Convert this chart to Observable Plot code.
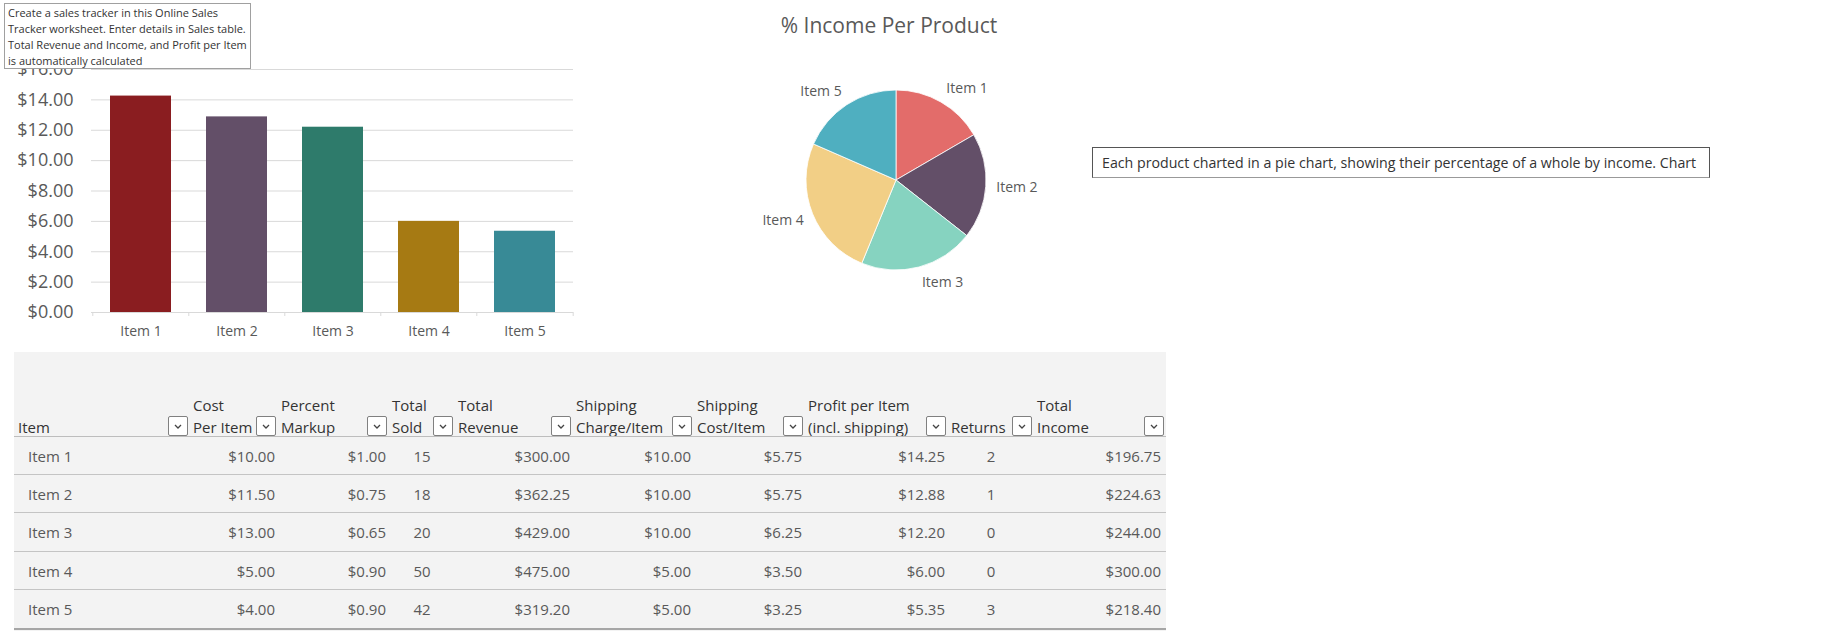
<!DOCTYPE html>
<html><head><meta charset="utf-8">
<script src="https://cdn.jsdelivr.net/npm/d3@7"></script>
<script src="https://cdn.jsdelivr.net/npm/@observablehq/plot@0.6"></script>
<style>
html,body{margin:0;padding:0;background:#fff;}
#page{position:relative;width:1829px;height:631px;overflow:hidden;font-family:'Segoe UI','Open Sans',sans-serif;}
#page > *{position:absolute;}
.tip1{left:4px;top:3px;width:247px;height:66px;box-sizing:border-box;border:1px solid #a0a0a0;background:#fff;padding:1px 0 0 3px;font-size:11px;line-height:16px;color:#333;white-space:pre;}
.tip2{left:1092px;top:147px;width:618px;height:31px;box-sizing:border-box;border:1px solid #555;border-bottom-color:#999;background:#fff;padding:0 0 0 9px;font-size:14.2px;line-height:29px;color:#333;white-space:nowrap;}
.title{left:689px;top:10px;width:400px;text-align:center;font-size:21px;line-height:30px;color:#595959;}
.cell{box-sizing:border-box;font-size:15px;color:#595959;white-space:nowrap;}
.head{font-size:15px;line-height:22px;color:#333;white-space:pre;}
.btn{box-sizing:border-box;width:20px;height:20px;border:1px solid #808080;border-radius:2px;background:#fff;}
</style></head><body><div id="page"></div>
<script>
// ---------- data ----------
const items = ["Item 1", "Item 2", "Item 3", "Item 4", "Item 5"];
const costPerItem = [10.00, 11.50, 13.00, 5.00, 4.00];
const percentMarkup = [1.00, 0.75, 0.65, 0.90, 0.90];
const totalSold = [15, 18, 20, 50, 42];
const totalRevenue = [300.00, 362.25, 429.00, 475.00, 319.20];
const shippingCharge = [10.00, 10.00, 10.00, 5.00, 5.00];
const shippingCost = [5.75, 5.75, 6.25, 3.50, 3.25];
const profitPerItem = [14.25, 12.88, 12.20, 6.00, 5.35];
const returnsCount = [2, 1, 0, 0, 3];
const totalIncome = [196.75, 224.63, 244.00, 300.00, 218.40];
const yTicks = [0, 2, 4, 6, 8, 10, 12, 14, 16];
const barColors = ["#8a1d20", "#634f68", "#2e7b6b", "#a67a13", "#388a96"];
const pieColors = ["#e36c6a", "#634f68", "#86d3c0", "#f2cf86", "#4fafc0"];
const headers = [["Item"], ["Cost", "Per Item"], ["Percent", "Markup"], ["Total", "Sold"], ["Total", "Revenue"],
  ["Shipping", "Charge/Item"], ["Shipping", "Cost/Item"], ["Profit per Item", "(incl. shipping)"], ["Returns"], ["Total", "Income"]];
const tip1Text = "Create a sales tracker in this Online Sales\nTracker worksheet. Enter details in Sales table.\nTotal Revenue and Income, and Profit per Item\nis automatically calculated";
const tip2Text = "Each product charted in a pie chart, showing their percentage of a whole by income. Chart";
const chartTitle = "% Income Per Product";

// ---------- layout (not data) ----------
const F = "'Segoe UI','Open Sans',sans-serif";
const page = document.getElementById("page");
const money = d => "$" + d.toFixed(2);

// ---------- bar chart ----------
const barData = items.map((item, i) => ({item, profit: profitPerItem[i], color: barColors[i]}));
const plotW = 600, mL = 91, mR = 27;
const step = (plotW - mL - mR) / items.length;
const bar = Plot.plot({
  width: plotW, height: 350,
  marginLeft: mL, marginRight: mR, marginTop: 69, marginBottom: 38,
  style: {fontFamily: F, color: "#595959", background: "transparent", overflow: "visible"},
  x: {domain: items, paddingInner: 0.367, paddingOuter: 0.1835, label: null},
  y: {domain: [0, 16], label: null},
  color: {type: "identity"},
  marks: [
    Plot.gridY({ticks: yTicks, stroke: "#d9d9d9", strokeOpacity: 1}),
    Plot.barY(barData, {x: "item", y: "profit", fill: "color"}),
    Plot.ruleY([0], {stroke: "#d9d9d9"}),
    Plot.axisY({ticks: yTicks, tickSize: 0, tickPadding: 18, fontSize: 18, tickFormat: money, label: null}),
    Plot.axisX({tickSize: 0, tickPadding: 14, fontSize: 14, label: null}),
    Plot.axisX({tickSize: 4, stroke: "#d9d9d9", dx: -step / 2, tickFormat: () => "", label: null}),
    Plot.axisX([items[items.length - 1]], {tickSize: 4, stroke: "#d9d9d9", dx: step / 2, tickFormat: () => "", label: null})
  ]
});
bar.style.left = "0px"; bar.style.top = "0px";
page.appendChild(bar);

const tip1 = document.createElement("div");
tip1.className = "tip1"; tip1.textContent = tip1Text;
page.appendChild(tip1);

// ---------- pie chart ----------
const pieRows = items.map((item, i) => ({item, income: totalIncome[i], color: pieColors[i]}));
const arcs = d3.pie().sort(null).value(d => d.income)(pieRows);
const R = 90;
const labels = arcs.map(a => {
  const m = (a.startAngle + a.endAngle) / 2;
  return {item: a.data.item, x: Math.sin(m) * (R + 10), y: Math.cos(m) * (R + 16), right: Math.sin(m) > 0};
});
const pie = Plot.plot({
  width: 300, height: 280, margin: 0,
  style: {fontFamily: F, color: "#595959", background: "transparent", overflow: "visible"},
  x: {domain: [-136, 164], axis: null},
  y: {domain: [-140, 140], axis: null},
  marks: [
    (index, scales) => {
      const {x, y} = scales;
      const r = x(R) - x(0);
      const g = d3.create("svg:g").attr("transform", `translate(${x(0)},${y(0)})`);
      g.selectAll("path").data(arcs).join("path")
        .attr("d", d3.arc().innerRadius(0).outerRadius(r))
        .attr("fill", d => d.data.color)
        .attr("stroke", "#ffffff").attr("stroke-width", 0.8);
      return g.node();
    },
    Plot.text(labels.filter(d => d.right), {x: "x", y: "y", text: "item", textAnchor: "start", fontSize: 14, fill: "#595959"}),
    Plot.text(labels.filter(d => !d.right), {x: "x", y: "y", text: "item", textAnchor: "end", fontSize: 14, fill: "#595959"})
  ]
});
pie.style.left = "760px"; pie.style.top = "40px";
page.appendChild(pie);

const title = document.createElement("div");
title.className = "title"; title.textContent = chartTitle;
page.appendChild(title);

const tip2 = document.createElement("div");
tip2.className = "tip2"; tip2.textContent = tip2Text;
page.appendChild(tip2);

// ---------- table ----------
const colEdges = [14, 190, 278, 389, 455, 573, 694, 805, 948, 1034, 1166];
const rowEdges = [437, 475, 513, 552, 590, 629];
const colAlign = ["left", "right", "right", "center", "right", "right", "right", "right", "center", "right"];
const columns = [items, costPerItem.map(money), percentMarkup.map(money), totalSold.map(String), totalRevenue.map(money),
  shippingCharge.map(money), shippingCost.map(money), profitPerItem.map(money), returnsCount.map(String), totalIncome.map(money)];

function box(css, cls, text) {
  const d = document.createElement("div");
  if (cls) d.className = cls;
  Object.assign(d.style, css);
  if (text != null) d.textContent = text;
  page.appendChild(d);
  return d;
}
box({left: "14px", top: "352px", width: "1152px", height: "279px", background: "#f3f3f3"});

headers.forEach((lines, c) => {
  box({left: (colEdges[c] + (c === 0 ? 4 : 3)) + "px", top: (427 - 11 - (lines.length - 1) * 22) + "px"}, "head", lines.join("\n"));
  const b = box({left: (colEdges[c + 1] - 22) + "px", top: "416px"}, "btn");
  b.innerHTML = '<svg width="18" height="18" style="display:block"><polyline points="6,8 9,11 12,8" fill="none" stroke="#444" stroke-width="1.3"/></svg>';
});
box({left: "14px", top: "436px", width: "1152px", height: "1px", background: "#bdbdbd"});
for (let r = 1; r < rowEdges.length - 1; r++) {
  box({left: "14px", top: (rowEdges[r] - 1) + "px", width: "1152px", height: "1px", background: "#c4c4c4"});
}
box({left: "14px", top: "628px", width: "1152px", height: "2px", background: "#a6a6a6"});

columns.forEach((vals, c) => {
  vals.forEach((v, r) => {
    const h = rowEdges[r + 1] - rowEdges[r];
    box({left: colEdges[c] + "px", top: rowEdges[r] + "px", width: (colEdges[c + 1] - colEdges[c]) + "px", height: h + "px",
      lineHeight: h + "px", textAlign: colAlign[c], paddingLeft: c === 0 ? "14px" : "0",
      paddingRight: colAlign[c] === "right" ? (c === columns.length - 1 ? "5px" : "3px") : "0"}, "cell", v);
  });
});
</script></body></html>
